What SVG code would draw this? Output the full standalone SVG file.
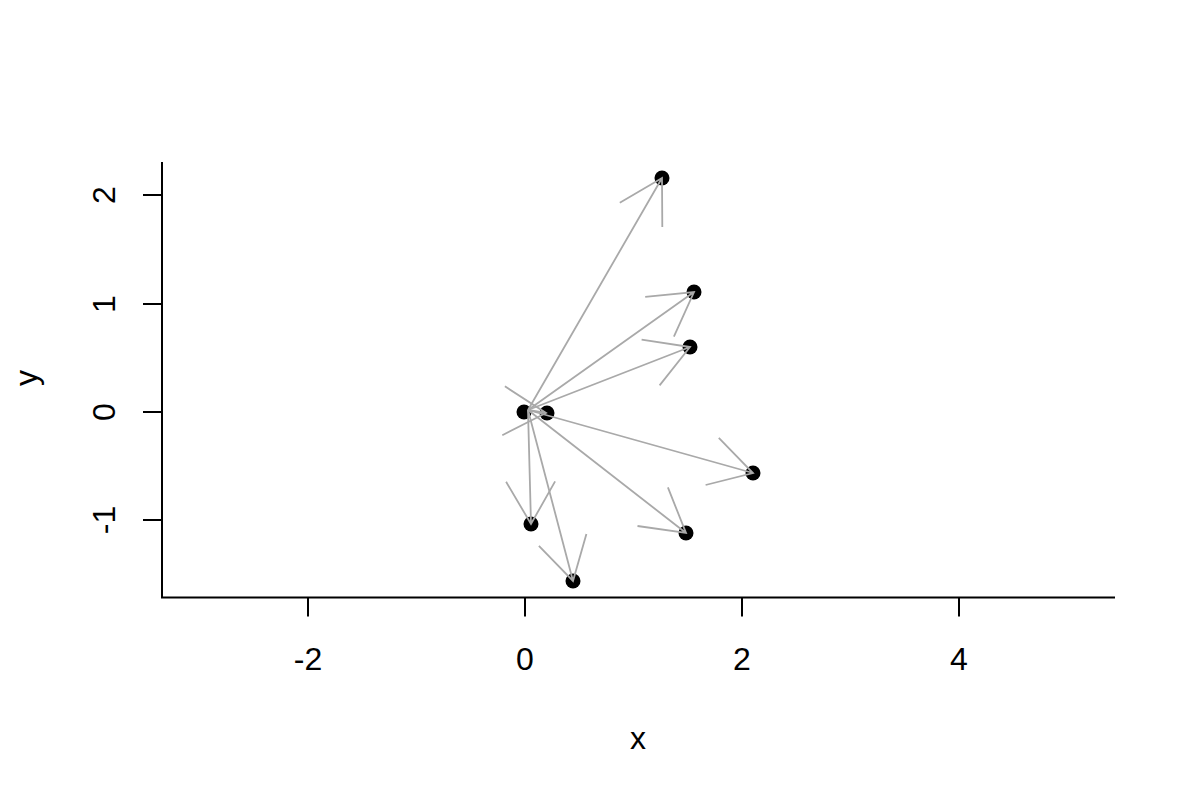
<svg xmlns="http://www.w3.org/2000/svg" width="1200" height="800" viewBox="0 0 1200 800">
<style>
.ax{stroke:#000;stroke-width:2;fill:none}
.lbl{font-family:"Liberation Sans",Arial,sans-serif;font-size:32px;fill:#000}
.pt{fill:#000}
.ar{stroke:#a9a9a9;stroke-width:1.8;fill:none;stroke-linecap:butt}
</style>
<rect width="1200" height="800" fill="#fff"/>
<g id="axes">
<path class="ax" d="M162,162 V597.5 H1115"/>
<path class="ax" d="M308,597.5 v19 M525,597.5 v19 M742,597.5 v19 M959,597.5 v19"/>
<path class="ax" d="M162,520 h-19 M162,412 h-19 M162,304 h-19 M162,195 h-19"/>
<g class="lbl" text-anchor="middle">
<text x="308" y="670">-2</text>
<text x="525" y="670">0</text>
<text x="742" y="670">2</text>
<text x="959" y="670">4</text>
<text x="638" y="749">x</text>
<text transform="translate(115,520) rotate(-90)">-1</text>
<text transform="translate(115,412) rotate(-90)">0</text>
<text transform="translate(115,304) rotate(-90)">1</text>
<text transform="translate(115,195) rotate(-90)">2</text>
<text transform="translate(37,378) rotate(-90)">y</text>
</g>
</g>
<g id="n1"><circle class="pt" cx="524" cy="412" r="7.5"/></g>
<g id="n2"><circle class="pt" cx="662" cy="178" r="7.5"/></g>
<g id="n3"><circle class="pt" cx="694" cy="292" r="7.5"/></g>
<g id="n4"><circle class="pt" cx="690" cy="347" r="7.5"/></g>
<g id="n5"><circle class="pt" cx="753" cy="473" r="7.5"/></g>
<g id="n6"><circle class="pt" cx="686" cy="533" r="7.5"/></g>
<g id="n7"><circle class="pt" cx="531" cy="524" r="7.5"/></g>
<g id="n8"><circle class="pt" cx="573" cy="581" r="7.5"/></g>
<g id="n9"><circle class="pt" cx="547" cy="413" r="7.5"/></g>
<g id="connectors" class="ar">
<path d="M528,410 L662,178 M619.8,202.8 L662,178 L662.3,227"/>
<path d="M528,410 L694,292 M645.2,296.9 L694,292 L673.9,336.7"/>
<path d="M528,410 L690,347 M641.6,339.7 L690,347 L659.6,385.4"/>
<path d="M528,410 L753,473 M718.8,437.9 L753,473 L705.6,485"/>
<path d="M528,410 L686,533 M667.9,487.4 L686,533 L637.5,526"/>
<path d="M528,410 L531,524 M555.1,481.4 L531,524 L506.1,481.8"/>
<path d="M528,410 L573,581 M586.4,533.9 L573,581 L538.9,545.9"/>
<path d="M528,410 L546,413 M504.9,386.3 L546,413 L502.3,435.2"/>
</g>
</svg>
